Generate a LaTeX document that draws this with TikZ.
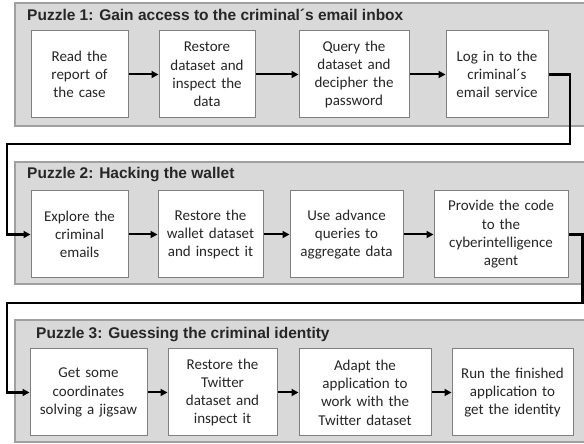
\documentclass[tikz,border=0pt]{standalone}
\usepackage{fontspec}
\setmainfont{Liberation Sans}
\newfontfamily\boxfont{Carlito}
\newfontfamily\titlefont{Liberation Sans}
\usetikzlibrary{arrows.meta}
\definecolor{panelfill}{HTML}{D9D9D9}
\definecolor{paneledge}{HTML}{A0A0A0}
\definecolor{boxedge}{HTML}{7F7F7F}
\definecolor{txt}{HTML}{262626}
\tikzset{
  panel/.style={fill=panelfill, draw=paneledge, line width=1.3pt},
  stepbox/.style={draw=boxedge, fill=white, line width=1pt, minimum height=87pt,
    inner sep=2pt, align=center, text=txt,
    font=\boxfont\fontsize{15}{18.3}\selectfont},
  ptitle/.style={anchor=base west, inner sep=0pt, text=txt,
    font=\titlefont\bfseries\fontsize{15.5}{18}\selectfont},
  flow/.style={line width=2pt, -{Triangle[length=7pt,width=7pt]}},
  link/.style={line width=2.5pt, -{Triangle[length=7pt,width=7pt]}}
}
\begin{document}
\begin{tikzpicture}[x=1pt,y=1pt]
\useasboundingbox (0,0) rectangle (584,444);
\clip (0,0) rectangle (584,444);
% panels
\draw[panel] (15,441) rectangle (590,318);
\draw[panel] (15,282) rectangle (590,160);
\draw[panel] (15,124) rectangle (590,2);
% titles
\node[ptitle] (t1) at (27,423.5) {Puzzle 1: Gain access to the criminal´s email inbox};
\node[ptitle] (t2) at (27,265.5) {Puzzle 2: Hacking the wallet};
\node[ptitle] (t3) at (36,105.5) {Puzzle 3: Guessing the criminal identity};
% row 1
\node[stepbox, minimum width=97pt, text width=93pt] (b1) at (79.5,369.5) {Read the\\report of\\the case};
\node[stepbox, minimum width=96pt, text width=92pt] (b2) at (207,369.5) {Restore\\dataset and\\inspect the\\data};
\node[stepbox, minimum width=110pt, text width=106pt] (b3) at (354,369.5) {Query the\\dataset and\\decipher the\\password};
\node[stepbox, minimum width=102pt, text width=98pt] (b4) at (497,369.5) {Log in to the\\criminal´s\\email service};
% row 2
\node[stepbox, minimum width=97pt, text width=93pt] (b5) at (79.5,209.5) {Explore the\\criminal\\emails};
\node[stepbox, minimum width=105pt, text width=101pt] (b6) at (210.5,209.5) {Restore the\\wallet dataset\\and inspect it};
\node[stepbox, minimum width=113pt, text width=109pt] (b7) at (346.5,209.5) {Use advance\\queries to\\aggregate data};
\node[stepbox, minimum width=134pt, text width=130pt] (b8) at (501,209.5) {Provide the code\\to the\\cyberintelligence\\agent};
% row 3
\node[stepbox, minimum width=117pt, text width=113pt] (b9) at (88.5,51.5) {Get some\\coordinates\\solving a jigsaw};
\node[stepbox, minimum width=109pt, text width=105pt] (b10) at (222.5,51.5) {Restore the\\Twitter\\dataset and\\inspect it};
\node[stepbox, minimum width=132pt, text width=128pt] (b11) at (365,51.5) {Adapt the\\application to\\work with the\\Twitter dataset};
\node[stepbox, minimum width=121pt, text width=117pt] (b12) at (512.5,51.5) {Run the finished\\application to\\get the identity};
% arrows within rows
\draw[flow] (b1) -- (b2);
\draw[flow] (b2) -- (b3);
\draw[flow] (b3) -- (b4);
\draw[flow] (b5) -- (b6);
\draw[flow] (b6) -- (b7);
\draw[flow] (b7) -- (b8);
\draw[flow] (b9) -- (b10);
\draw[flow] (b10) -- (b11);
\draw[flow] (b11) -- (b12);
% links between panels
\coordinate (c1a) at (570,369.5);
\coordinate (c1b) at (570,300);
\coordinate (c1c) at (7,300);
\coordinate (c1d) at (7,209.5);
\draw[link, line join=miter] (b4.east) -- (c1a) -- (c1b) -- (c1c) -- (c1d) -- (b5.west);
\coordinate (c2a) at (582.5,209.5);
\coordinate (c2b) at (582.5,141);
\coordinate (c2c) at (7,141);
\coordinate (c2d) at (7,51.5);
\draw[link, line join=miter] (b8.east) -- (c2a) -- (c2b) -- (c2c) -- (c2d) -- (b9.west);
\end{tikzpicture}
\end{document}
